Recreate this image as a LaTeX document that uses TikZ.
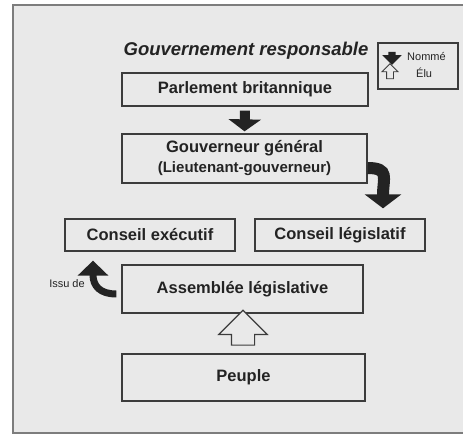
\documentclass[tikz,border=0pt]{standalone}
\usepackage{fontspec}
\setmainfont{Liberation Sans}
\usepackage{tikz}
\usetikzlibrary{shapes,arrows,arrows.meta,positioning,calc}
\usepackage{xcolor}
\definecolor{papergray}{RGB}{233,233,233}
\definecolor{framegray}{RGB}{125,125,125}
\definecolor{boxgray}{RGB}{60,60,60}
\definecolor{inkgray}{RGB}{35,35,35}

\tikzset{
  govbox/.style={draw=boxgray, line width=1.3pt, fill=papergray, text=inkgray,
    font=\bfseries\fontsize{16.5}{20}\selectfont, inner sep=0pt, align=center},
  namedarrow/.style={draw=inkgray, line width=10pt, -{Triangle[width=32pt,length=12pt]}},
  electedarrow/.style={single arrow, draw=boxgray, line width=1.2pt, fill=papergray,
    shape border rotate=90},
  legendtext/.style={inner sep=0pt, anchor=west, text=inkgray, font=\fontsize{11}{13}\selectfont}
}

\begin{document}
\begin{tikzpicture}[x=1pt,y=-1pt]
    \useasboundingbox (0,0) rectangle (463,434);
    \fill[white] (0,0) rectangle (463,434);
    \draw[framegray, line width=2pt, fill=papergray] (13,5) rectangle (475,433);
    % title and legend
    \node[text=inkgray, font=\bfseries\itshape\fontsize{18.5}{22}\selectfont] (title) at (246,51) {Gouvernement responsable};
    \node[draw=boxgray, line width=1.2pt, minimum width=80pt, minimum height=46pt] (legend) at (418,66) {};
    \node[single arrow, fill=inkgray, shape border rotate=270, inner xsep=3.5pt, inner ysep=0pt,
          minimum height=13pt, minimum width=19pt, single arrow head extend=6pt] (legnamed) at (392,56.5) {};
    \node[legendtext] (namedlabel) at (407,56.5) {Nommé};
    \node[electedarrow, line width=0.9pt, inner xsep=3pt, inner ysep=0pt, minimum height=15pt, minimum width=15pt,
          single arrow head extend=4.5pt] (legelected) at (390,73) {};
    \node[legendtext] (electedlabel) at (416,73) {Élu};
    % boxes
    \node[govbox, minimum width=246pt, minimum height=33pt] (parliament) at (245,89.5) {Parlement britannique};
    \node[govbox, minimum width=245pt, minimum height=49pt] (governor) at (244.5,158.5)
        {Gouverneur général\\{\fontsize{15}{18}\selectfont(Lieutenant-gouverneur)}};
    \node[govbox, minimum width=170pt, minimum height=32pt] (executive) at (150,235) {Conseil exécutif};
    \node[govbox, minimum width=170pt, minimum height=32pt] (legislative) at (340,235) {Conseil législatif};
    \node[govbox, minimum width=241pt, minimum height=48pt] (assembly) at (242.5,289) {Assemblée législative};
    \node[govbox, minimum width=243pt, minimum height=47pt] (people) at (243.5,377.5) {Peuple};
    % arrows
    \draw[namedarrow, shorten <=4pt, shorten >=2pt] (parliament.south) -- (governor.north);
    \coordinate (bendstart) at ($(governor.east)+(0,9.5)$);
    \coordinate (bendend) at ($(legislative.north)+(43,-10)$);
    \draw[namedarrow, line width=12pt, -{Triangle[width=36pt,length=14pt]}]
        (bendstart) .. controls (390,168) and (383,178) .. (bendend);
    \coordinate (issustart) at ($(assembly.west)+(-5,5)$);
    \coordinate (issuend) at ($(executive.south)+(-57,9)$);
    \draw[namedarrow, line width=7pt, -{Triangle[width=30pt,length=15pt]}]
        (issustart) .. controls (100,294) and (93,286) .. (issuend);
    \node[legendtext, anchor=center] (issulabel) at (67,284) {Issu de};
    \node[electedarrow, inner sep=11pt, minimum height=33pt, minimum width=47pt, single arrow head extend=12.5pt]
        (vote) at ($(people.north)!0.5!(assembly.south)$) {};
\end{tikzpicture}
\end{document}
